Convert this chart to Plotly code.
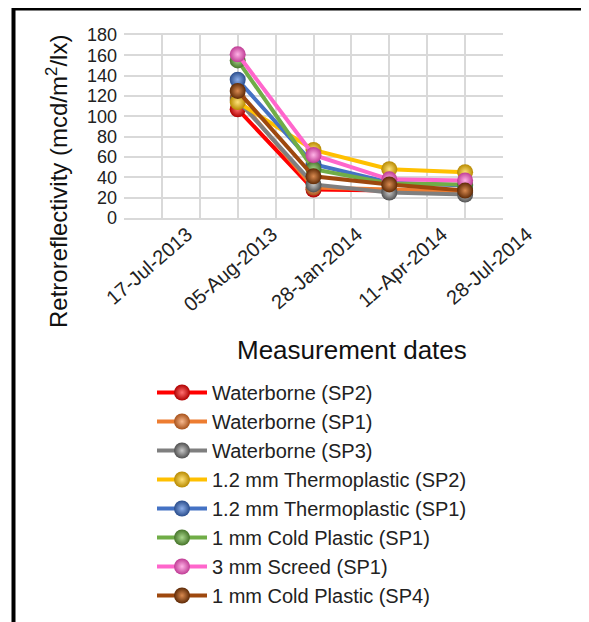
import plotly.graph_objects as go

dates = ["17-Jul-2013", "05-Aug-2013", "28-Jan-2014", "11-Apr-2014", "28-Jul-2014"]

series_names = [
    "Waterborne (SP2)",
    "Waterborne (SP1)",
    "Waterborne (SP3)",
    "1.2 mm Thermoplastic (SP2)",
    "1.2 mm Thermoplastic (SP1)",
    "1 mm Cold Plastic (SP1)",
    "3 mm Screed (SP1)",
    "1 mm Cold Plastic (SP4)",
]

waterborne_sp2 = [None, 107, 28, 27, 25]
waterborne_sp1 = [None, 118, 30, 28, 26]
waterborne_sp3 = [None, 116, 33, 25, 23]
thermo_12_sp2 = [None, 114, 67, 48, 45]
thermo_12_sp1 = [None, 136, 53, 35, 32]
cold_1_sp1 = [None, 155, 48, 34, 33]
screed_3_sp1 = [None, 161, 62, 38, 37]
cold_1_sp4 = [None, 125, 41, 33, 27]

values = [waterborne_sp2, waterborne_sp1, waterborne_sp3, thermo_12_sp2,
          thermo_12_sp1, cold_1_sp1, screed_3_sp1, cold_1_sp4]

line_colors = ["#FF0000", "#ED7D31", "#7F7F7F", "#FFC000",
               "#4472C4", "#70AD47", "#FF66CC", "#9E480E"]
center_colors = ["#FF7070", "#F7B98F", "#C8C8C8", "#FFE27A",
                 "#8FB0EA", "#A9D68C", "#FFB3E6", "#D98A50"]
edge_colors = ["#B00000", "#A8521A", "#505050", "#B88A00",
               "#2A4D8C", "#46752A", "#C03C95", "#5E2A06"]

y_ticks = [0, 20, 40, 60, 80, 100, 120, 140, 160, 180]

OFF = 8  # page body margin: reference pixel -> figure pixel
W, H = 589 - OFF, 622 - OFF
PL, PT, PB = 124 - OFF, 35 - OFF, 218 - OFF   # plot area left/top/bottom
PR_PAPER = 545 - OFF                          # paper right edge
PLOT_R = 503 - OFF                            # main plot right edge

pw = PR_PAPER - PL
ph = PB - PT


def px_x(px):
    """reference-picture x pixel -> paper fraction"""
    return (px - OFF - PL) / pw


def px_y(py):
    """reference-picture y pixel -> paper fraction"""
    return (PB - (py - OFF)) / ph


xs = list(range(len(dates)))

fig = go.Figure()
for i, name in enumerate(series_names):
    fig.add_trace(go.Scatter(
        x=xs, y=values[i], name=name, mode="lines+markers",
        legendgroup=f"g{i}",
        line=dict(color=line_colors[i], width=4),
        marker=dict(size=16, color=edge_colors[i],
                    gradient=dict(type="radial", color=center_colors[i]),
                    line=dict(width=0)),
        connectgaps=False,
    ))

# helper trace carrying the date labels (own, wider axis pair)
fig.add_trace(go.Scatter(x=xs, y=[None] * len(xs), xaxis="x2", yaxis="y2",
                         mode="lines", showlegend=False, hoverinfo="skip"))

label_unit = 85.0
label_first = 187.0 - OFF
fig.update_layout(
    width=W, height=H,
    margin=dict(l=PL, r=W - PR_PAPER, t=PT, b=H - PB, pad=0, autoexpand=False),
    paper_bgcolor="white", plot_bgcolor="rgba(0,0,0,0)",
    font=dict(family="Liberation Sans, Arial", color="#222222"),
    showlegend=True,
    xaxis=dict(domain=[0, (PLOT_R - PL) / pw], range=[-0.5, len(dates) - 0.5],
               tick0=-0.5, dtick=0.5, showticklabels=False, ticks="",
               showgrid=True, gridcolor="#D9D9D9", gridwidth=1.5,
               showline=True, linecolor="#D9D9D9", linewidth=1.5, mirror=True,
               zeroline=False, fixedrange=True, automargin=False),
    yaxis=dict(range=[0, 180], tickmode="array", tickvals=y_ticks,
               tickfont=dict(size=18, color="#222222"),
               showgrid=True, gridcolor="#D9D9D9", gridwidth=1.5,
               zeroline=False, ticks="", ticklabelstandoff=6, automargin=False),
    xaxis2=dict(domain=[0, 1], anchor="y2",
                range=[-(label_first - PL) / label_unit,
                       (PR_PAPER - label_first) / label_unit],
                tickmode="array", tickvals=xs, ticktext=dates,
                tickangle=-41, tickfont=dict(size=20, color="#222222"),
                showgrid=False, zeroline=False, showline=False, ticks="",
                automargin=False),
    yaxis2=dict(domain=[0, 1], anchor="x2", range=[0, 1], showgrid=False,
                showticklabels=False, zeroline=False, showline=False,
                ticks="", automargin=False),
    legend=dict(x=px_x(152), xanchor="left", y=px_y(373), yanchor="top",
                font=dict(size=20, color="#222222"),
                traceorder="grouped", tracegroupgap=0, itemwidth=50,
                bgcolor="rgba(0,0,0,0)"),
    annotations=[
        dict(text="Retroreflectivity (mcd/m<sup>2</sup>/lx)", textangle=-90,
             x=px_x(57), y=px_y(182), xref="paper", yref="paper",
             xanchor="center", yanchor="middle",
             showarrow=False, font=dict(size=24, color="#111111")),
        dict(text="Measurement dates",
             x=px_x(352), y=px_y(350), xref="paper", yref="paper",
             xanchor="center", yanchor="middle",
             showarrow=False, font=dict(size=26, color="#111111")),
    ],
    shapes=[
        dict(type="line", xref="paper", yref="paper",
             x0=px_x(12), x1=px_x(600), y0=px_y(8.5), y1=px_y(8.5),
             line=dict(color="black", width=4)),
        dict(type="line", xref="paper", yref="paper",
             x0=px_x(13.5), x1=px_x(13.5), y0=px_y(7), y1=px_y(640),
             line=dict(color="black", width=4)),
    ],
)

fig.write_html("out.html")
